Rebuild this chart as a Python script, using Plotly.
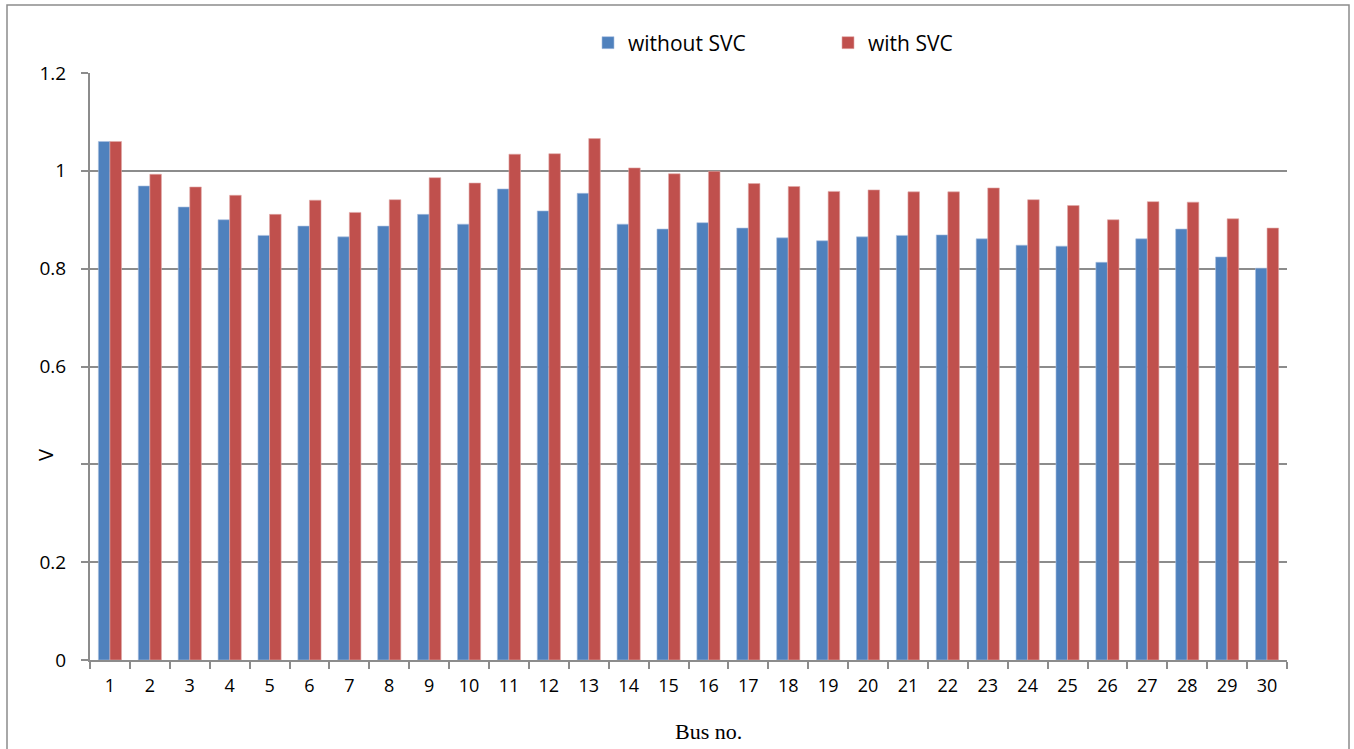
import plotly.graph_objects as go

buses = [str(i) for i in range(1, 31)]
without_svc = [1.060, 0.969, 0.926, 0.900, 0.868, 0.887, 0.865, 0.887, 0.911, 0.891,
               0.963, 0.918, 0.954, 0.891, 0.881, 0.894, 0.883, 0.863, 0.857, 0.865,
               0.868, 0.869, 0.861, 0.848, 0.846, 0.813, 0.861, 0.881, 0.824, 0.801]
with_svc = [1.060, 0.993, 0.967, 0.950, 0.911, 0.940, 0.915, 0.941, 0.986, 0.975,
            1.034, 1.035, 1.066, 1.006, 0.994, 0.999, 0.974, 0.968, 0.958, 0.961,
            0.957, 0.957, 0.965, 0.941, 0.929, 0.900, 0.937, 0.936, 0.902, 0.883]
y_tickvals = [0, 0.2, 0.4, 0.6, 0.8, 1.0, 1.2]
y_ticktext = ["0", "0.2", "", "0.6", "0.8", "1", "1.2"]

W, H = 1354, 749
L, R, T, B = 90, 1287, 73, 660
PW, PH = R - L, B - T


def py(pix):
    return (B - pix) / PH


def px(pix):
    return (pix - L) / PW


fig = go.Figure()
fig.add_trace(go.Bar(x=buses, y=without_svc, name="without SVC",
                     marker=dict(color="#4F81BD", line=dict(color="#A9C0E0", width=0.6))))
fig.add_trace(go.Bar(x=buses, y=with_svc, name="with SVC",
                     marker=dict(color="#C0504D", line=dict(color="#E0A9A8", width=0.6))))

grid = "#8C8C8C"
fig.update_layout(
    width=W, height=H,
    margin=dict(l=L, r=W - R, t=T, b=H - B, autoexpand=False),
    paper_bgcolor="white", plot_bgcolor="white",
    barmode="group", bargap=0.42, bargroupgap=0,
    font=dict(family="Open Sans", size=18, color="#000000"),
    showlegend=True,
    legend=dict(orientation="h", x=px(588), y=py(43), xanchor="left", yanchor="middle",
                entrywidth=195, font=dict(size=21, family="Open Sans"),
                bgcolor="rgba(0,0,0,0)"),
    xaxis=dict(type="category", showgrid=False, showline=True, linecolor=grid, linewidth=2,
               ticks="outside", tickson="boundaries", ticklen=7, tickcolor=grid, tickwidth=1.5,
               tickfont=dict(size=18, family="Open Sans"), ticklabelstandoff=8,
               automargin=False),
    yaxis=dict(range=[0, 1.2], tickvals=y_tickvals, ticktext=y_ticktext,
               showgrid=True, gridcolor=grid, gridwidth=2,
               showline=True, linecolor=grid, linewidth=2,
               ticks="outside", ticklen=7, tickcolor=grid, tickwidth=1.5,
               tickfont=dict(size=19, family="Open Sans"), zeroline=False,
               ticklabelstandoff=11, automargin=False),
    annotations=[
        dict(text="Bus no.", xref="paper", yref="paper", x=px(708), y=py(731),
             xanchor="center", yanchor="middle", showarrow=False,
             font=dict(family="Liberation Serif", size=22)),
        dict(text="V", xref="paper", yref="paper", x=px(45), y=py(455),
             xanchor="center", yanchor="middle", showarrow=False, textangle=-90,
             font=dict(family="Open Sans", size=20)),
    ],
    shapes=[dict(type="rect", xref="paper", yref="paper",
                 x0=px(7), x1=px(1349), y0=py(770), y1=py(5),
                 line=dict(color="#8C8C8C", width=1.5), fillcolor="rgba(0,0,0,0)", layer="below")],
)

fig.write_html("out.html", config={"displayModeBar": False},
               post_script="document.body.style.margin='0px';")
